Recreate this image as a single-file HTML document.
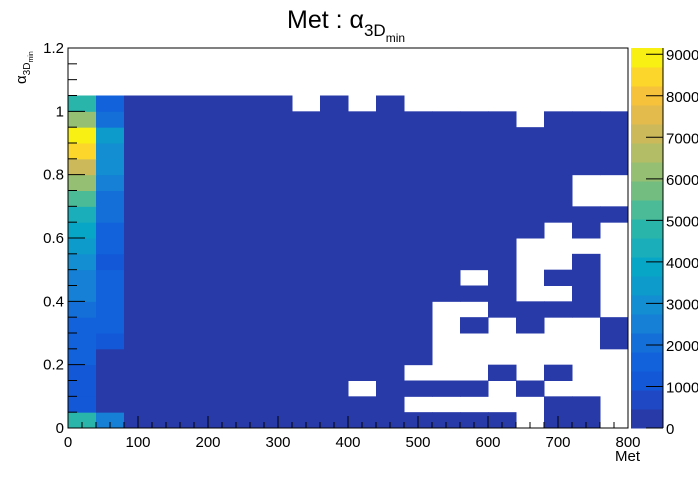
<!DOCTYPE html>
<html><head><meta charset="utf-8"><style>
body{margin:0;background:#fff;}
svg text{font-family:"Liberation Sans",sans-serif;}
</style></head><body>
<svg id="c" width="698" height="476"></svg>
<script>
// 20 x-bins (0..800, width 40), 24 y-bins (0..1.2, width 0.05); rows listed from y=0 upward
const xEdges = {min:0,max:800,n:20};
const yEdges = {min:0,max:1.2,n:24};
const col0 = [4800,1000,1100,1300,1500,1600,1800,2000,2300,2700,3000,3500,3800,4500,5200,6300,7300,8300,9200,6000,4800];
const col1 = [2600,100,100,100,100,1300,1400,1400,1500,1500,1200,1600,1600,2200,2100,2600,3000,3100,3500,2200,1500];
// filled low-count columns (index 2..19) per row
const filledRows = [
 [2,3,4,5,6,7,8,9,10,11,12,13,14,15,17,18],
 [2,3,4,5,6,7,8,9,10,11,17,18],
 [2,3,4,5,6,7,8,9,11,12,13,14,16],
 [2,3,4,5,6,7,8,9,10,11,15,17],
 [2,3,4,5,6,7,8,9,10,11,12],
 [2,3,4,5,6,7,8,9,10,11,12,19],
 [2,3,4,5,6,7,8,9,10,11,12,14,16,19],
 [2,3,4,5,6,7,8,9,10,11,12,15,16,17,18],
 [2,3,4,5,6,7,8,9,10,11,12,13,14,15,18],
 [2,3,4,5,6,7,8,9,10,11,12,13,15,17,18],
 [2,3,4,5,6,7,8,9,10,11,12,13,14,15,18],
 [2,3,4,5,6,7,8,9,10,11,12,13,14,15],
 [2,3,4,5,6,7,8,9,10,11,12,13,14,15,16,18],
 [2,3,4,5,6,7,8,9,10,11,12,13,14,15,16,17,18,19],
 [2,3,4,5,6,7,8,9,10,11,12,13,14,15,16,17],
 [2,3,4,5,6,7,8,9,10,11,12,13,14,15,16,17],
 [2,3,4,5,6,7,8,9,10,11,12,13,14,15,16,17,18,19],
 [2,3,4,5,6,7,8,9,10,11,12,13,14,15,16,17,18,19],
 [2,3,4,5,6,7,8,9,10,11,12,13,14,15,16,17,18,19],
 [2,3,4,5,6,7,8,9,10,11,12,13,14,15,17,18,19],
 [2,3,4,5,6,7,9,11]
];
const lowValue = 100;
const zMax = 9150;
const xTicks = [0,100,200,300,400,500,600,700,800];
const yTicks = [0,0.2,0.4,0.6,0.8,1,1.2];
const zTicks = [0,1000,2000,3000,4000,5000,6000,7000,8000,9000];
const bandColors = ["#283aa8","#1e48c4","#1358d6","#1262dc","#1470d8","#1580d5","#138ed2","#0c9bcb","#08a6c6","#1aaebb","#2ab5aa","#4bba96","#73bd80","#95bf72","#b2bd66","#ccba5a","#e2bb4c","#f6c13b","#fcd62a","#f8f012"];

const NS="http://www.w3.org/2000/svg";
const svg=document.getElementById('c');
const L=68,R=628,T=48,B=428;
const X=v=>L+(v-xEdges.min)/(xEdges.max-xEdges.min)*(R-L);
const Y=v=>B-(v-yEdges.min)/(yEdges.max-yEdges.min)*(B-T);
const ZB=v=>B-v/zMax*(B-T);
function mk(tag,at,parent){const e=document.createElementNS(NS,tag);for(const k in at)e.setAttribute(k,at[k]);(parent||svg).appendChild(e);return e;}
function colorOf(v){let b=Math.floor(v/zMax*20);if(b>19)b=19;if(b<0)b=0;return bandColors[b];}
const bw=(xEdges.max-xEdges.min)/xEdges.n, bh=(yEdges.max-yEdges.min)/yEdges.n;
function cell(i,j,v){
  const r=mk('rect',{x:X(i*bw),y:Y((j+1)*bh),width:X((i+1)*bw)-X(i*bw)+0.5,height:Y(j*bh)-Y((j+1)*bh)+0.5,fill:colorOf(v)});
  
  
}
for(let j=0;j<col0.length;j++){
  cell(0,j,col0[j]);
  cell(1,j,col1[j]);
  filledRows[j].forEach(i=>cell(i,j,lowValue));
}
// frame
const fr=mk('rect',{x:L,y:T,width:R-L,height:B-T,fill:'none',stroke:'#000','stroke-width':1});

// x ticks
for(let v=0;v<=800;v+=20){const maj=v%100===0;mk('line',{x1:X(v),x2:X(v),y1:B,y2:B-(maj?12:6),stroke:'#000'});}
xTicks.forEach(v=>{const t=mk('text',{x:X(v),y:B+19,'font-size':15,'text-anchor':'middle'});t.textContent=v;
 });
// y ticks
for(let k=0;k<=24;k++){const v=k*0.05;const maj=k%4===0;mk('line',{x1:L,x2:L+(maj?17:9),y1:Y(v),y2:Y(v),stroke:'#000'});}
yTicks.forEach(v=>{const t=mk('text',{x:L-4,y:Y(v)+5,'font-size':15,'text-anchor':'end'});t.textContent=v;
 });
// colorbar
for(let b=0;b<20;b++){const r=mk('rect',{x:631,y:ZB((b+1)*zMax/20),width:32,height:ZB(b*zMax/20)-ZB((b+1)*zMax/20)+0.5,fill:bandColors[b]});
 }
zTicks.forEach(v=>{mk('line',{x1:646,x2:663,y1:ZB(v),y2:ZB(v),stroke:'#000'});
 const t=mk('text',{x:666,y:ZB(v)+6,'font-size':15});t.textContent=v;
 });
mk('line',{x1:663,x2:663,y1:T,y2:B,stroke:'#000'});
</script>
<svg width="698" height="476" style="position:absolute;left:0;top:0">
<text x="287" y="28" font-size="25" font-family="Liberation Sans">Met : α<tspan font-size="17" dy="8">3D</tspan><tspan font-size="12" dy="6">min</tspan></text>
<text x="615" y="461" font-size="15" font-family="Liberation Sans">Met</text>
<g transform="translate(26,84) rotate(-90)">
<text x="0" y="0" font-size="15" font-family="Liberation Sans">α<tspan font-size="10" dy="4">3D</tspan><tspan font-size="7" dy="3">min</tspan></text></g>
</svg>
</body></html>
